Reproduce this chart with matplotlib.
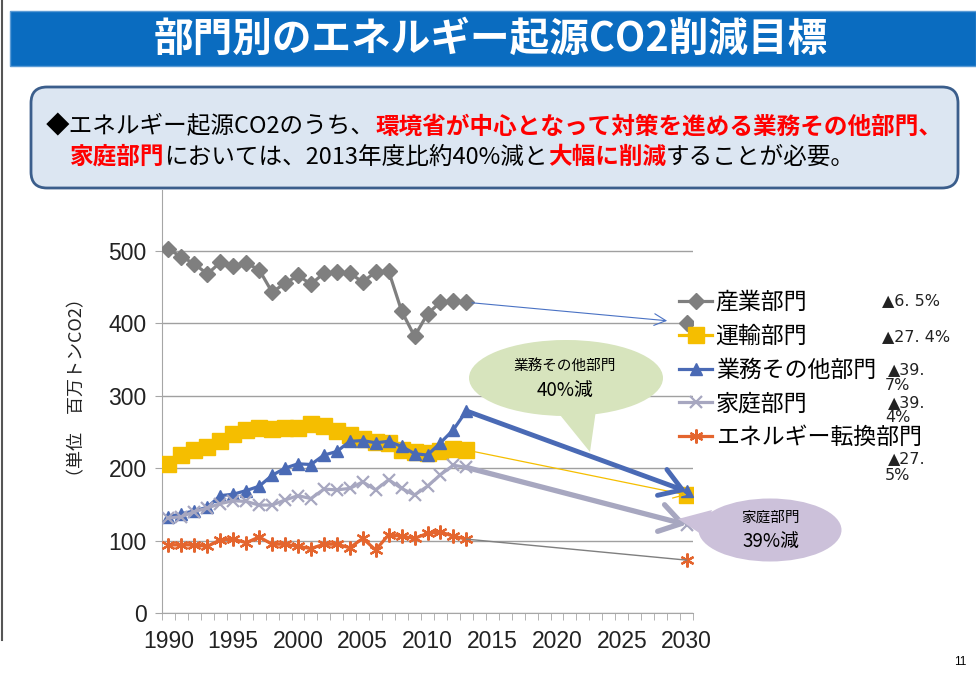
import matplotlib
matplotlib.use('Agg')
import matplotlib.pyplot as plt
from matplotlib.patches import Ellipse, Polygon, FancyBboxPatch, Rectangle
from matplotlib.transforms import Affine2D
from matplotlib.lines import Line2D

plt.rcParams['font.family'] = ['Noto Sans CJK JP', 'DejaVu Sans']

W, H = 976, 682

# ---- data (百万トンCO2) ----
years = list(range(1990, 2014))
sangyo = [502, 492, 482, 468, 484, 479, 483, 474, 443, 455, 466, 454,
          469, 471, 469, 457, 471, 472, 417, 382, 413, 429, 431, 429]
unyu = [206, 218, 225, 229, 238, 247, 253, 255, 254, 255, 256, 261,
        258, 251, 246, 240, 236, 235, 225, 222, 221, 223, 227, 225]
gyomu = [133, 137, 141, 146, 162, 164, 169, 175, 190, 200, 206, 205,
         218, 223, 237, 238, 235, 237, 230, 220, 218, 235, 253, 279]
katei = [131, 133, 140, 145, 151, 155, 154, 149, 149, 156, 162, 158,
         171, 170, 172, 181, 170, 184, 172, 163, 175, 191, 204, 201]
tenkan = [94, 94, 94, 92, 101, 102, 97, 105, 95, 95, 92, 89,
          95, 95, 90, 103, 87, 108, 106, 103, 110, 112, 106, 102]

target_year = 2030
targets = [401, 163, 168, 122, 73]

names = ['産業部門', '運輸部門', '業務その他部門', '家庭部門', 'エネルギー転換部門']
cuts = [['▲6. 5%'], ['▲27. 4%'], ['▲39.', '7%'], ['▲39.', '4%'], ['▲27.', '5%']]

title = '部門別のエネルギー起源CO2削減目標'
msg1 = [('◆エネルギー起源CO2のうち、', 'k', 'normal'),
        ('環境省が中心となって対策を進める業務その他部門、', 'red', 'bold')]
msg2 = [('家庭部門', 'red', 'bold'),
        ('においては、2013年度比約40%減と', 'k', 'normal'),
        ('大幅に削減', 'red', 'bold'),
        ('することが必要。', 'k', 'normal')]

colors = ['#7F7F7F', '#F5BE00', '#4A6AB5', '#A7A7C0', '#E4652E']
markers = ['D', 's', '^', 'x', (6, 2, 0)]
msizes = [8, 11, 9, 9, 10]

fig = plt.figure(figsize=(W / 100, H / 100), dpi=100)
pix = Affine2D().scale(1 / W, -1 / H).translate(0, 1) + fig.transFigure

# header bar
fig.patches.append(Rectangle((10, 11), 966, 55, transform=pix, facecolor='#0A6CC0',
                             edgecolor='#5B9BD5', lw=1, zorder=0))
fig.text(491, 39, title, transform=pix, ha='center', va='center', color='white',
         fontsize=28.5, fontweight='bold')
fig.add_artist(Line2D([1.5, 1.5], [0, 640], transform=pix, color='#555555', lw=1.5))

# axes
ax = fig.add_axes([162 / W, 1 - 613 / H, (693 - 162) / W, (613 - 190) / H])
all_data = [sangyo, unyu, gyomu, katei, tenkan]
for d, c, m, ms, n in zip(all_data, colors, markers, msizes, names):
    mew = 1.6 if m in ('x',) or isinstance(m, tuple) else 1
    ax.plot(years, d, color=c, lw=2.3, marker=m, markersize=ms, mew=mew, label=n, zorder=3)

for t, c, m, ms in zip(targets, colors, markers, msizes):
    mew = 1.6 if m in ('x',) or isinstance(m, tuple) else 1
    ax.plot([target_year], [t], color=c, marker=m, markersize=ms, mew=mew, zorder=3,
            linestyle='none')

# arrows from last year to target
last = [d[-1] for d in all_data]
ax.annotate('', xy=(target_year, targets[0]), xytext=(years[-1], last[0]),
            arrowprops=dict(arrowstyle='->,head_length=0.6,head_width=0.3', color='#4A72C4',
                            lw=0.8, shrinkA=4, shrinkB=14, mutation_scale=14), zorder=4)
ax.annotate('', xy=(target_year, targets[1]), xytext=(years[-1], last[1]),
            arrowprops=dict(arrowstyle='->,head_length=0.6,head_width=0.3', color=colors[1],
                            lw=0.9, shrinkA=6, shrinkB=0, mutation_scale=14), zorder=4)
ax.annotate('', xy=(target_year, targets[2]), xytext=(years[-1], last[2]),
            arrowprops=dict(arrowstyle='->,head_length=0.7,head_width=0.45', color=colors[2],
                            lw=3.5, shrinkA=0, shrinkB=0, mutation_scale=22), zorder=5)
ax.annotate('', xy=(target_year, targets[3]), xytext=(years[-1], last[3]),
            arrowprops=dict(arrowstyle='->,head_length=0.7,head_width=0.45', color=colors[3],
                            lw=3.8, shrinkA=0, shrinkB=0, mutation_scale=22), zorder=5)
ax.annotate('', xy=(target_year, targets[4]), xytext=(years[-1], last[4]),
            arrowprops=dict(arrowstyle='-', color='#7F7F7F', lw=1, shrinkA=0, shrinkB=0),
            zorder=4)

ax.set_xlim(1989.5, 2030.5)
ax.set_ylim(0, 584)
ax.set_yticks(range(0, 501, 100))
ax.set_xticks(range(1990, 2031, 5))
ax.set_xticks([y + 0.5 for y in range(1989, 2031)], minor=True)
ax.tick_params(axis='x', which='major', length=0, labelsize=16.5, labelcolor='#222222', pad=12)
ax.tick_params(axis='x', which='minor', length=5, color='#A6A6A6', direction='out')
ax.tick_params(axis='y', length=5, color='#A6A6A6', labelsize=16.5, labelcolor='#222222', pad=6)
for lab in ax.get_xticklabels() + ax.get_yticklabels():
    lab.set_family(['Liberation Sans', 'DejaVu Sans'])
ax.grid(axis='y', color='#A0A0A0', lw=1)
ax.set_axisbelow(True)
for s in ['top', 'right']:
    ax.spines[s].set_visible(False)
ax.spines['left'].set_color('#A6A6A6')
ax.spines['bottom'].set_color('#A6A6A6')
ax.patch.set_alpha(0)

fig.text(77, 388, '（単位　百万トンCO2）', transform=pix, rotation=90, ha='center',
         va='center', fontsize=13, color='#222222')

leg = ax.legend(loc='upper left', bbox_to_anchor=(679 / W, 1 - 291 / H),
                bbox_transform=fig.transFigure, frameon=False, fontsize=16.5,
                handlelength=1.45, handletextpad=0.15, labelspacing=0.47,
                borderpad=0, borderaxespad=0)

# reduction rates
cut_pos = [[(882, 301)], [(882, 337)], [(888, 370), (885, 385)],
           [(888, 403), (885, 417)], [(888, 459), (885, 475)]]
for labs, poss in zip(cuts, cut_pos):
    for s, (x, y) in zip(labs, poss):
        fig.text(x, y, s, transform=pix, ha='left', va='center', fontsize=11.5,
                 family=['DejaVu Sans', 'Noto Sans CJK JP'], color='#222222')

# callout bubbles
green = '#D7E4BD'
fig.patches.append(Ellipse((566, 378), 194, 76, transform=pix, facecolor=green,
                           edgecolor='none', zorder=6))
fig.patches.append(Polygon([(556, 410), (596, 410), (590, 452)], transform=pix,
                           facecolor=green, edgecolor='none', zorder=6))
fig.text(565, 366, '業務その他部門', transform=pix, ha='center', va='center', fontsize=10.5, zorder=7)
fig.text(565, 390, '40%減', transform=pix, ha='center', va='center', fontsize=13.5, zorder=7)

purple = '#CCC1DA'
fig.patches.append(Ellipse((770, 530), 143, 63, transform=pix, facecolor=purple,
                           edgecolor='none', zorder=6))
fig.patches.append(Polygon([(712, 510), (704, 536), (678, 519)], transform=pix,
                           facecolor=purple, edgecolor='none', zorder=6))
fig.text(771, 518, '家庭部門', transform=pix, ha='center', va='center', fontsize=10.5, zorder=7)
fig.text(771, 541, '39%減', transform=pix, ha='center', va='center', fontsize=13.5, zorder=7)

# message box
fig.patches.append(FancyBboxPatch((31, 87), 927, 101, transform=pix,
                                  boxstyle='round,pad=0,rounding_size=16',
                                  facecolor='#DCE6F2', edgecolor='#3B5E8C', lw=2, zorder=6))

renderer = fig.canvas.get_renderer()


def rich_line(x, y, parts, size):
    for s, c, w in parts:
        t = fig.text(x, y, s, transform=pix, ha='left', va='center', color=c,
                     fontsize=size, fontweight=w, zorder=7)
        x += t.get_window_extent(renderer).width


rich_line(46, 127, msg1, 17)
rich_line(70, 157, msg2, 17)

fig.text(960, 662, '11', transform=pix, ha='center', va='center', fontsize=8.5,
         family=['Liberation Sans'])

fig.savefig('out.png', dpi=100)
